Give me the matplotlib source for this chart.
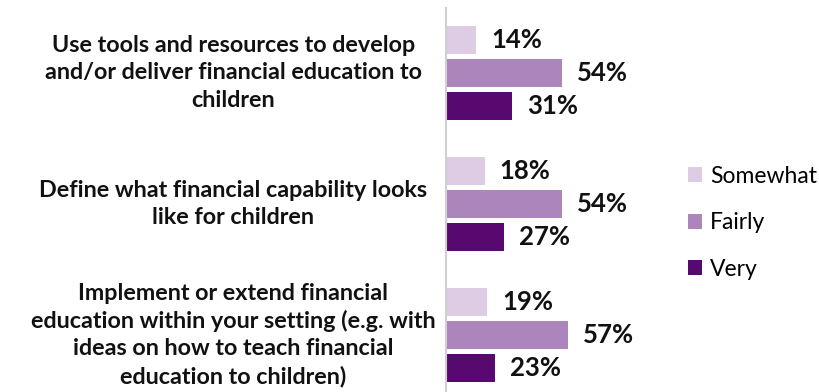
import matplotlib
matplotlib.use("Agg")
import matplotlib.pyplot as plt
import numpy as np

categories = [
    "Use tools and resources to develop\nand/or deliver financial education to\nchildren",
    "Define what financial capability looks\nlike for children",
    "Implement or extend financial\neducation within your setting (e.g. with\nideas on how to teach financial\neducation to children)",
]
series_names = ["Somewhat", "Fairly", "Very"]
somewhat = [14, 18, 19]
fairly = [54, 54, 57]
very = [31, 27, 23]
colors = ["#DDCCE4", "#AD85BD", "#57096F"]

plt.rcParams["font.family"] = ["Lato", "DejaVu Sans"]

fig = plt.figure(figsize=(8.19, 3.92), dpi=100)
ax = fig.add_axes([446 / 819, -8.5 / 392, 214 / 819, 393 / 392])

y = np.arange(len(categories))
bar_h = 0.214
step = 0.252
for i, (name, vals, col) in enumerate(zip(series_names, [somewhat, fairly, very], colors)):
    pos = y + (i - 1) * step
    ax.barh(pos, vals, height=bar_h, color=col, label=name)
    for p, v in zip(pos, vals):
        ax.annotate(f"{v}%", xy=(v, p), xytext=(11, 0), textcoords="offset points",
                    va="center", ha="left", fontsize=18.5, fontweight="bold", color="#111111")

ax.set_xlim(0, 100)
ax.set_ylim(2.5, -0.5)
ax.set_yticks(y)
ax.set_yticklabels(categories, fontsize=16.8, fontweight="bold", color="#111111",
                   ha="center", va="center", multialignment="center", linespacing=1.36)
ax.tick_params(axis="y", length=0, pad=153)
ax.set_xticks([])
for s in ["top", "right", "bottom"]:
    ax.spines[s].set_visible(False)
ax.spines["left"].set_color("#D0D0D0")
ax.spines["left"].set_linewidth(1.5)

handles, labels = ax.get_legend_handles_labels()
fig.legend(handles, labels, loc="upper left", bbox_to_anchor=(683 / 819, 1 - 161 / 392),
           frameon=False, fontsize=16.5, handlelength=0.62, handleheight=0.62,
           handletextpad=0.35, labelspacing=1.12, borderaxespad=0, borderpad=0.2)

fig.savefig("out.png", dpi=100)
